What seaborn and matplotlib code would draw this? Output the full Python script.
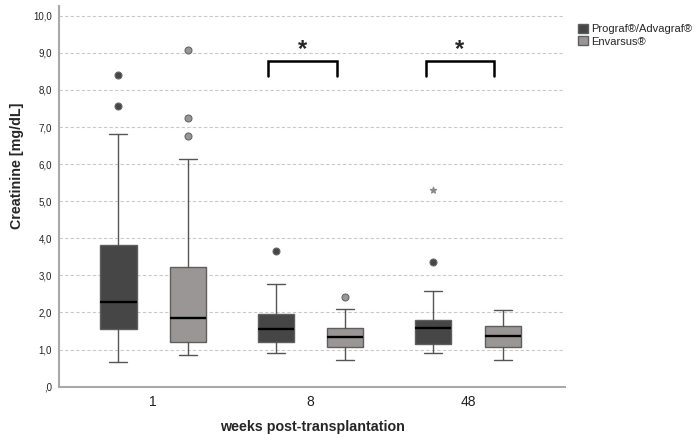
import numpy as np
import matplotlib.pyplot as plt
import matplotlib.patches as mpatches
import seaborn as sns

# ------------------------------------------------------------
# Data: creatinine [mg/dL] per week
# ------------------------------------------------------------
weeks = ["1", "8", "48"]
groups = ["Prograf®/Advagraf®", "Envarsus®"]

prograf_whislo = [0.67, 0.90, 0.90]
prograf_q1 = [1.55, 1.21, 1.15]
prograf_med = [2.28, 1.56, 1.58]
prograf_q3 = [3.82, 1.97, 1.81]
prograf_whishi = [6.82, 2.78, 2.58]
prograf_outliers = [[8.41, 7.57], [3.65], [3.37]]
prograf_extremes = [[], [], [5.29]]

envarsus_whislo = [0.85, 0.73, 0.71]
envarsus_q1 = [1.21, 1.08, 1.08]
envarsus_med = [1.85, 1.35, 1.36]
envarsus_q3 = [3.22, 1.57, 1.64]
envarsus_whishi = [6.14, 2.09, 2.06]
envarsus_outliers = [[9.08, 7.25, 6.77], [2.43], []]
envarsus_extremes = [[], [], []]

# significance brackets (week index)
sig_weeks = [1, 2]

# ------------------------------------------------------------
# Style
# ------------------------------------------------------------
sns.set_style("white")
plt.rcParams["font.family"] = ["Liberation Sans", "DejaVu Sans"]

COLORS = {
    "prograf": "#464646",
    "envarsus": "#9a9696",
    "edge": "#5e5e5e",
    "axis": "#a8a8a8",
    "grid": "#c9c9c9",
}

fig = plt.figure(figsize=(6.95, 4.34), dpi=100)
ax = fig.add_axes([0.085, 0.109, 0.728, 0.877])


def summaries(lo, q1, med, q3, hi, fl):
    return [
        dict(whislo=a, q1=b, med=c, q3=d, whishi=e, fliers=f)
        for a, b, c, d, e, f in zip(lo, q1, med, q3, hi, fl)
    ]


sets = [
    ("prograf", -0.22,
     summaries(prograf_whislo, prograf_q1, prograf_med, prograf_q3,
               prograf_whishi, prograf_outliers), prograf_extremes),
    ("envarsus", 0.22,
     summaries(envarsus_whislo, envarsus_q1, envarsus_med, envarsus_q3,
               envarsus_whishi, envarsus_outliers), envarsus_extremes),
]

x = np.arange(len(weeks))
for key, off, stats, extremes in sets:
    ax.bxp(
        stats, positions=x + off, widths=0.23, patch_artist=True,
        boxprops=dict(facecolor=COLORS[key], edgecolor=COLORS["edge"], lw=1.0),
        medianprops=dict(color="black", lw=1.7),
        whiskerprops=dict(color="#555555", lw=1.0),
        capprops=dict(color="#555555", lw=1.0),
        flierprops=dict(marker="o", markerfacecolor=COLORS[key],
                        markeredgecolor="#666666", markersize=5, markeredgewidth=0.8),
        capwidths=0.115, manage_ticks=False, zorder=3,
    )
    for i, ext in enumerate(extremes):
        if ext:
            ax.scatter([x[i] + off] * len(ext), ext, marker="*", s=20,
                       color="#8a8a8a", zorder=4)

# significance brackets
for w in sig_weeks:
    x0, x1 = w - 0.27, w + 0.165
    ax.plot([x0, x0, x1, x1], [8.38, 8.77, 8.77, 8.38], color="black",
            lw=1.8, solid_joinstyle="miter", zorder=4)
    ax.text((x0 + x1) / 2, 9.1, "*", fontsize=17, fontweight="bold",
            ha="center", va="center")

# axes
ax.set_xlim(-0.597, 2.616)
ax.set_ylim(0, 10.26)
ax.set_xticks(x)
ax.set_xticklabels(weeks, fontsize=10)
yt = np.arange(0, 11, 1)
ax.set_yticks(yt)
ax.set_yticklabels([f"{v:.1f}".replace(".", ",") if v > 0 else ",0" for v in yt],
                   fontsize=7)
ax.tick_params(axis="both", length=0, colors="#222222")
ax.tick_params(axis="y", pad=5)
ax.tick_params(axis="x", pad=6)

ax.yaxis.grid(True, linestyle=(0, (3, 2)), color=COLORS["grid"], lw=0.8)
ax.set_axisbelow(True)
sns.despine(ax=ax)
for s in ["left", "bottom"]:
    ax.spines[s].set_color(COLORS["axis"])
    ax.spines[s].set_linewidth(1.5)

ax.set_xlabel("weeks post-transplantation", fontsize=10.3, fontweight="bold", labelpad=8)
ax.set_ylabel("Creatinine [mg/dL]", fontsize=10.3, fontweight="bold")
ax.yaxis.set_label_coords(-0.07, 0.58)

handles = [
    mpatches.Patch(facecolor=COLORS["prograf"], edgecolor=COLORS["edge"], label=groups[0]),
    mpatches.Patch(facecolor=COLORS["envarsus"], edgecolor=COLORS["edge"], label=groups[1]),
]
fig.legend(handles=handles, loc="upper left", bbox_to_anchor=(578 / 695, 1 - 24 / 434),
           frameon=False, fontsize=8, handlelength=0.9, handleheight=0.9,
           handletextpad=0.3, labelspacing=0.15, borderpad=0, borderaxespad=0)

fig.savefig("out.png", dpi=100)
